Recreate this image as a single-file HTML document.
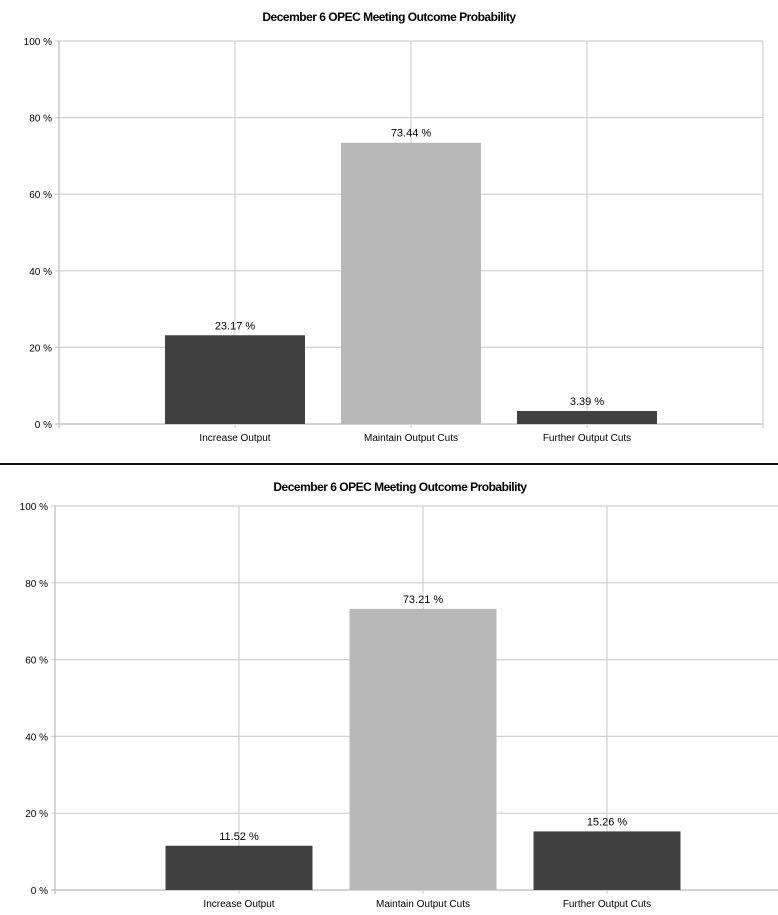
<!DOCTYPE html>
<html><head><meta charset="utf-8"><style>
html,body{margin:0;padding:0;background:#fff;}
svg{display:block;font-family:"Liberation Sans",sans-serif;}
</style></head><body>
<svg id="c" width="778" height="915"></svg>
<script>
const categories = ["Increase Output","Maintain Output Cuts","Further Output Cuts"];
const topValues = [23.17,73.44,3.39];
const bottomValues = [11.52,73.21,15.26];
const tickLabels = ["0 %","20 %","40 %","60 %","80 %","100 %"];
const tickValues = [0,20,40,60,80,100];
const barColors = ["#404040","#b8b8b8","#404040"];
const svg = document.getElementById('c');
const NS = "http://www.w3.org/2000/svg";
function mk(tag, attrs, parent){const e=document.createElementNS(NS,tag);for(const k in attrs)e.setAttribute(k,attrs[k]);(parent||svg).appendChild(e);return e;}
function drawChart(cfg, values, prefix){
  const g = mk('g',{});
  
  
  const y = v => cfg.y0 - (cfg.y0-cfg.y100)*v/100;
  const x = i => cfg.x0 + cfg.slot*(i+1);
  const t = mk('text',{x:cfg.titleX,y:cfg.titleY,'text-anchor':'middle','font-size':12,'font-weight':'bold','letter-spacing':'-0.5'},g);
  t.textContent="December 6 OPEC Meeting Outcome Probability";
  
  
  tickValues.forEach((v,k)=>{
    const l=mk('line',{x1:cfg.x0-4,x2:cfg.xEnd,y1:y(v),y2:y(v),stroke:v===0?'#bbb':'#d0d0d0','stroke-width':1.2},g);
    
    
    const tx=mk('text',{x:cfg.x0-7,y:y(v)+4,'text-anchor':'end','font-size':cfg.fs},g);
    tx.textContent=tickLabels[k];
    
    
  });
  const ax=mk('line',{x1:cfg.x0,x2:cfg.x0,y1:cfg.y100,y2:cfg.y0+4,stroke:'#bbb','stroke-width':1.2},g);
  
  
  categories.forEach((c,i)=>{
    const gl=mk('line',{x1:x(i),x2:x(i),y1:cfg.y100,y2:cfg.y0+4,stroke:'#d0d0d0','stroke-width':1.2},g);
    
    
  });
  if(cfg.rightLine){
    const rl=mk('line',{x1:cfg.xEnd,x2:cfg.xEnd,y1:cfg.y100,y2:cfg.y0+4,stroke:'#d0d0d0','stroke-width':1.2},g);
    
    
  }
  categories.forEach((c,i)=>{
    const v=values[i];
    const b=mk('rect',{x:x(i)-cfg.bw/2,y:y(v),width:cfg.bw,height:cfg.y0-y(v),fill:barColors[i]},g);
    
    
    const vl=mk('text',{x:x(i),y:y(v)-6,'text-anchor':'middle','font-size':cfg.fs+1},g);
    vl.textContent=v.toFixed(2)+" %";
    
    
    const cl=mk('text',{x:x(i),y:cfg.y0+17,'text-anchor':'middle','font-size':cfg.fs},g);
    cl.textContent=c;
    
    
  });
}
drawChart({x0:59,slot:176,xEnd:763,y0:424,y100:41,bw:140,fs:10,titleX:389,titleY:21,rightLine:true},topValues,'top');
const sep=mk('line',{x1:0,x2:778,y1:464,y2:464,stroke:'#111','stroke-width':2});


drawChart({x0:55,slot:184,xEnd:778,y0:890,y100:506,bw:147,fs:10,titleX:400,titleY:491,rightLine:false},bottomValues,'bottom');
</script>
</body></html>
